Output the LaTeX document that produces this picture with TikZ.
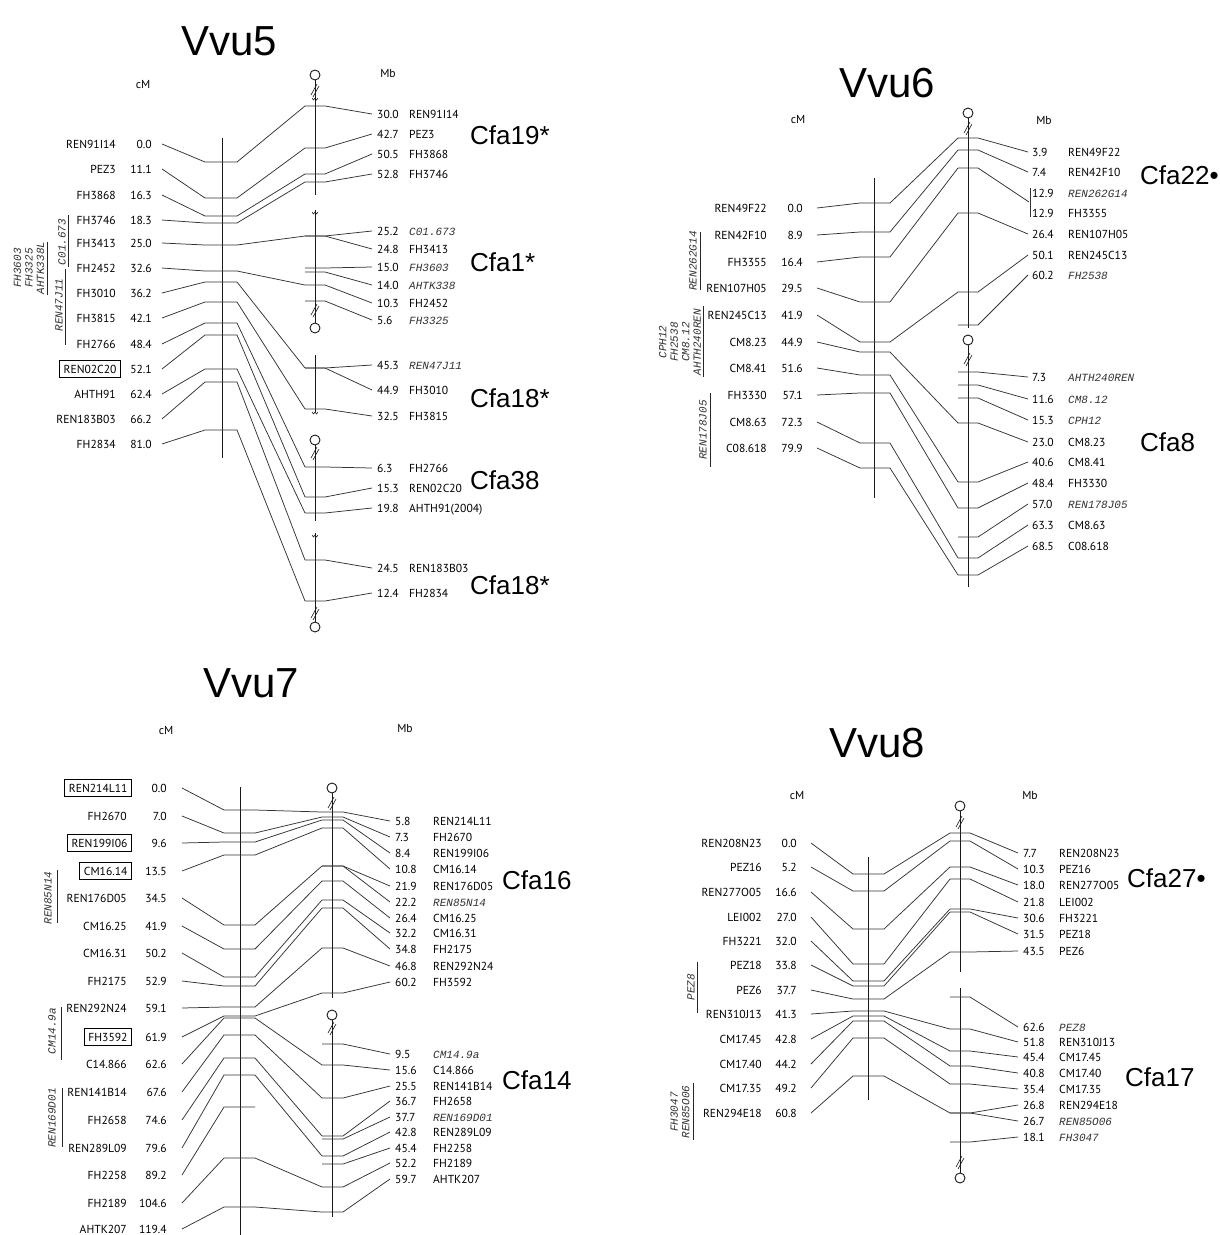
\documentclass[tikz,border=0pt]{standalone}
\usepackage{fontspec}
\setmainfont{PT Sans}
\newfontfamily\helv{Liberation Sans}
\newfontfamily\monoit{Liberation Mono}

% left (genetic map) marker: [name style]{id}{name}{cM}{y label}{y on chromosome}
\newcommand\Lmk[6][]{%
  \node[lab,anchor=east,#1] (#2-n) at (\xLname,#5) {#3};
  \node[lab,anchor=east] (#2-c) at (\xLnum,#5) {#4};
  \coordinate (#2-s) at (\xLs,#5);
  \coordinate (#2-a) at (\xCa,#6);
  \coordinate (#2-b) at (\xCb,#6);
  \draw[ln] (#2-s) -- (#2-a) -- (#2-b);
}
% right (physical map) marker: [name style]{id}{Mb}{name}{y label}{y tick}
\newcommand\Rmk[6][]{%
  \coordinate (#2-t) at (\xTa,#6);
  \coordinate (#2-u) at (\xTb,#6);
  \coordinate (#2-e) at (\xE,#5);
  \node[lab,anchor=west] (#2-m) at (\xRnum,#5) {#3};
  \node[lab,anchor=west,#1] (#2-r) at (\xRname,#5) {#4};
  \draw[ln] (#2-t) -- (#2-u) -- (#2-e);
}
\newcommand\Link[1]{\draw[ln] (#1-b) -- (#1-t);}
% chromosome decorations
\newcommand\Cen[2]{\draw[chr] (#1,#2) circle[radius=5pt];}
\newcommand\Brk[2]{\draw[chr,line width=0.6pt] (#1-4,#2+5) -- (#1+2,#2-6) (#1-2,#2+7) -- (#1+4,#2-4);}
\newcommand\Wig[2]{\draw[line width=0.5pt] (#1-3,#2-1) -- (#1-1.5,#2+1) -- (#1,#2-1) -- (#1+1.5,#2+1) -- (#1+3,#2-1);}

\begin{document}
\begin{tikzpicture}[x=1pt,y=-1pt,
  lab/.style={font=\fontsize{11.6}{12}\selectfont, inner sep=0pt, text height=8.1pt, text depth=0pt},
  itl/.style={font=\fontsize{11}{12}\monoit\itshape, text=black!80},
  boxd/.style={draw, line width=1pt, inner xsep=4pt, inner ysep=4pt, xshift=5pt},
  ln/.style={line width=0.75pt, black!80},
  chr/.style={line width=0.9pt, black!90},
  bar/.style={line width=1pt, black!85},
  ttl/.style={font=\fontsize{42}{46}\helv},
  cfa/.style={font=\fontsize{26}{30}\helv, anchor=west, inner sep=0pt},
  unit/.style={font=\fontsize{11.6}{12}\selectfont, inner sep=0pt},
  rot/.style={rotate=90, font=\fontsize{11}{11.5}\monoit\itshape, align=center, text=black!80, inner sep=0pt},
]
\useasboundingbox (0,0) rectangle (1220,1235);
\fill[white] (0,0) rectangle (1220,1235);

% ================= Vvu5 =================
\node[ttl] (t5) at (229,41) {Vvu5};
\node[unit] (cm5) at (143,85) {cM};
\node[unit] (mb5) at (388,73) {Mb};
\def\xLname{116}\def\xLnum{152}\def\xLs{162}\def\xCa{205}\def\xCb{237}
\def\xTa{305}\def\xTb{325}\def\xE{372}\def\xRnum{377}\def\xRname{409}
\draw[chr] (222,138) -- (222,458);
\Lmk{a1}{REN91I14}{0.0}{144}{162}
\Lmk{a2}{PEZ3}{11.1}{169}{198}
\Lmk{a3}{FH3868}{16.3}{195}{216}
\Lmk{a4}{FH3746}{18.3}{220}{223}
\Lmk{a5}{FH3413}{25.0}{243}{245}
\Lmk{a6}{FH2452}{32.6}{268}{271}
\Lmk{a7}{FH3010}{36.2}{293}{282}
\Lmk{a8}{FH3815}{42.1}{318}{302}
\Lmk{a9}{FH2766}{48.4}{344}{323}
\Lmk[boxd]{a10}{REN02C20}{52.1}{369}{335}
\Lmk{a11}{AHTH91}{62.4}{394}{369}
\Lmk{a12}{REN183B03}{66.2}{419}{382}
\Lmk{a13}{FH2834}{81.0}{444}{430}
% physical segments
\Cen{315}{75}\draw[chr] (315,80) -- (315,195);\Brk{315}{90}\Wig{315}{99}
\Wig{315}{213}\draw[chr] (315,210) -- (315,323);\Brk{315}{310}\Cen{315}{328}
\draw[chr] (315,355) -- (315,412);\Wig{315}{413}
\Cen{315}{440}\draw[chr] (315,445) -- (315,521);\Brk{315}{453}
\Wig{315}{536}\draw[chr] (315,533) -- (315,622);\Brk{315}{613}\Cen{315}{627}
\Rmk{a1}{30.0}{REN91I14}{114}{106}
\Rmk{a2}{42.7}{PEZ3}{134}{148}
\Rmk{a3}{50.5}{FH3868}{154}{174}
\Rmk{a4}{52.8}{FH3746}{174}{182}
\Rmk[itl]{b1}{25.2}{C01.673}{231}{236}
\Rmk{a5}{24.8}{FH3413}{249}{236}
\Rmk[itl]{b2}{15.0}{FH3603}{267}{268}
\Rmk[itl]{b3}{14.0}{AHTK338}{285}{272}
\Rmk{a6}{10.3}{FH2452}{303}{285}
\Rmk[itl]{b4}{5.6}{FH3325}{320}{301}
\Rmk[itl]{b5}{45.3}{REN47J11}{365}{368}
\Rmk{a7}{44.9}{FH3010}{390}{368}
\Rmk{a8}{32.5}{FH3815}{416}{409}
\Rmk{a9}{6.3}{FH2766}{468}{467}
\Rmk{a10}{15.3}{REN02C20}{488}{497}
\Rmk{a11}{19.8}{AHTH91(2004)}{508}{513}
\Rmk{a12}{24.5}{REN183B03}{568}{560}
\Rmk{a13}{12.4}{FH2834}{593}{601}
\foreach \i in {1,...,13} {\Link{a\i}}
\node[cfa] (k19) at (470,135) {Cfa19*};
\node[cfa] (k1) at (470,262) {Cfa1*};
\node[cfa] (k18a) at (470,398) {Cfa18*};
\node[cfa] (k38) at (470,480) {Cfa38};
\node[cfa] (k18b) at (470,585) {Cfa18*};
\node[rot] (v5a) at (62,242) {C01.673};
\draw[bar] (68,215) -- (68,267);
\node[rot] (v5b) at (59,305) {REN47J11};
\draw[bar] (65,269) -- (65,345);
\node[rot] (v5c) at (29,268) {FH3603\\FH3325\\AHTK338L};
\draw[bar] (47,242) -- (47,295);

% ================= Vvu6 =================
\node[ttl] (t6) at (887,83) {Vvu6};
\node[unit] (cm6) at (798,120) {cM};
\node[unit] (mb6) at (1044,120) {Mb};
\def\xLname{767}\def\xLnum{803}\def\xLs{817}\def\xCa{860}\def\xCb{890}
\def\xTa{958}\def\xTb{978}\def\xE{1028}\def\xRnum{1032}\def\xRname{1068}
\draw[chr] (874,178) -- (874,498);
\Lmk{c1}{REN49F22}{0.0}{208}{203}
\Lmk{c2}{REN42F10}{8.9}{235}{232}
\Lmk{c3}{FH3355}{16.4}{262}{257}
\Lmk{c4}{REN107H05}{29.5}{288}{302}
\Lmk{c5}{REN245C13}{41.9}{315}{342}
\Lmk{c6}{CM8.23}{44.9}{342}{352}
\Lmk{c7}{CM8.41}{51.6}{368}{375}
\Lmk{c8}{FH3330}{57.1}{395}{393}
\Lmk{c9}{CM8.63}{72.3}{422}{443}
\Lmk{c10}{C08.618}{79.9}{448}{468}
\Cen{968}{113}\draw[chr] (968,118) -- (968,328);\Brk{968}{128}
\Cen{968}{340}\draw[chr] (968,345) -- (968,587);\Brk{968}{359}
\Rmk{c1}{3.9}{REN49F22}{152}{138}
\Rmk{c2}{7.4}{REN42F10}{172}{150}
% two markers at the same position, joined by a bracket
\coordinate (c3-t) at (958,168);
\coordinate (c3-u) at (978,168);
\coordinate (c3-e) at (1029,202);
\coordinate (br1) at (1030,188);
\coordinate (br2) at (1030,217);
\draw[ln] (c3-t) -- (c3-u) -- (c3-e);
\draw[ln] (br1) -- (br2);
\node[lab,anchor=west] (d0-m) at (1032,193) {12.9};
\node[lab,itl,anchor=west] (d0-r) at (1068,193) {REN262G14};
\node[lab,anchor=west] (c3-m) at (1032,213) {12.9};
\node[lab,anchor=west] (c3-r) at (1068,213) {FH3355};
\Rmk{c4}{26.4}{REN107H05}{234}{213}
\Rmk{c5}{50.1}{REN245C13}{255}{292}
\Rmk[itl]{d1}{60.2}{FH2538}{275}{325}
\Rmk[itl]{d2}{7.3}{AHTH240REN}{377}{372}
\Rmk[itl]{d3}{11.6}{CM8.12}{399}{385}
\Rmk[itl]{d4}{15.3}{CPH12}{420}{398}
\Rmk{c6}{23.0}{CM8.23}{442}{423}
\Rmk{c7}{40.6}{CM8.41}{462}{482}
\Rmk{c8}{48.4}{FH3330}{483}{508}
\Rmk[itl]{d5}{57.0}{REN178J05}{504}{537}
\Rmk{c9}{63.3}{CM8.63}{525}{558}
\Rmk{c10}{68.5}{C08.618}{546}{575}
\foreach \i in {1,...,10} {\Link{c\i}}
\node[cfa] (k22) at (1140,175) {Cfa22•};
\node[cfa] (k8) at (1140,442) {Cfa8};
\node[rot] (v6a) at (693,261) {REN262G14};
\draw[bar] (700,232) -- (700,290);
\node[rot] (v6b) at (680,342) {CPH12\\FH2538\\CM8.12\\AHTH240REN};
\draw[bar] (703,306) -- (703,377);
\node[rot] (v6c) at (703,430) {REN178J05};
\draw[bar] (710,393) -- (710,467);

% ================= Vvu7 =================
\node[ttl] (t7) at (251,683) {Vvu7};
\node[unit] (cm7) at (166,730) {cM};
\node[unit] (mb7) at (405,728) {Mb};
\def\xLname{127}\def\xLnum{167}\def\xLs{182}\def\xCa{224}\def\xCb{255}
\def\xTa{322}\def\xTb{343}\def\xE{390}\def\xRnum{395}\def\xRname{433}
\draw[chr] (240,787) -- (240,1235);
\Lmk[boxd]{e1}{REN214L11}{0.0}{788}{810}
\Lmk{e2}{FH2670}{7.0}{816}{833}
\Lmk[boxd]{e3}{REN199I06}{9.6}{843}{842}
\Lmk[boxd]{e4}{CM16.14}{13.5}{871}{855}
\Lmk{e5}{REN176D05}{34.5}{898}{925}
\Lmk{e6}{CM16.25}{41.9}{926}{949}
\Lmk{e7}{CM16.31}{50.2}{953}{977}
\Lmk{e8}{FH2175}{52.9}{981}{986}
\Lmk{e9}{REN292N24}{59.1}{1008}{1007}
\Lmk[boxd]{e10}{FH3592}{61.9}{1037}{1016}
\Lmk{e11}{C14.866}{62.6}{1064}{1018}
\Lmk{e12}{REN141B14}{67.6}{1092}{1035}
\Lmk{e13}{FH2658}{74.6}{1120}{1058}
\Lmk{e14}{REN289L09}{79.6}{1148}{1075}
\Lmk{e15}{FH2258}{89.2}{1175}{1107}
\Lmk{e16}{FH2189}{104.6}{1203}{1158}
\Lmk{e17}{AHTK207}{119.4}{1229}{1207}
\Cen{332}{788}\draw[chr] (332,793) -- (332,998);\Brk{332}{803}
\Cen{332}{1015}\draw[chr] (332,1020) -- (332,1217);\Brk{332}{1028}
\Rmk{e1}{5.8}{REN214L11}{821}{812}
\Rmk{e2}{7.3}{FH2670}{837}{817}
\Rmk{e3}{8.4}{REN199I06}{853}{820}
\Rmk{e4}{10.8}{CM16.14}{869}{828}
\Rmk{e5}{21.9}{REN176D05}{886}{866}
\Rmk[itl]{f1}{22.2}{REN85N14}{902}{866}
\Rmk{e6}{26.4}{CM16.25}{918}{881}
\Rmk{e7}{32.2}{CM16.31}{933}{900}
\Rmk{e8}{34.8}{FH2175}{949}{908}
\Rmk{e9}{46.8}{REN292N24}{966}{948}
\Rmk{e10}{60.2}{FH3592}{982}{993}
\Rmk[itl]{f2}{9.5}{CM14.9a}{1054}{1044}
\Rmk{e11}{15.6}{C14.866}{1070}{1065}
\Rmk{e12}{25.5}{REN141B14}{1086}{1098}
\Rmk{e13}{36.7}{FH2658}{1101}{1136}
\Rmk[itl]{f3}{37.7}{REN169D01}{1117}{1139}
\Rmk{e14}{42.8}{REN289L09}{1132}{1156}
\Rmk{e15}{45.4}{FH2258}{1148}{1164}
\Rmk{e16}{52.2}{FH2189}{1163}{1187}
\Rmk{e17}{59.7}{AHTK207}{1179}{1212}
\foreach \i in {1,...,14,16,17} {\Link{e\i}}
\node[cfa] (k16) at (502,880) {Cfa16};
\node[cfa] (k14) at (502,1080) {Cfa14};
\node[rot] (v7a) at (48,898) {REN85N14};
\draw[bar] (57,870) -- (57,923);
\node[rot] (v7b) at (52,1031) {CM14.9a};
\draw[bar] (61,1007) -- (61,1060);
\node[rot] (v7c) at (52,1118) {REN169D01};
\draw[bar] (62,1088) -- (62,1147);

% ================= Vvu8 =================
\node[ttl] (t8) at (877,743) {Vvu8};
\node[unit] (cm8) at (797,795) {cM};
\node[unit] (mb8) at (1030,795) {Mb};
\def\xLname{762}\def\xLnum{797}\def\xLs{811}\def\xCa{853}\def\xCb{884}
\def\xTa{950}\def\xTb{970}\def\xE{1018}\def\xRnum{1023}\def\xRname{1059}
\draw[chr] (868,857) -- (868,1100);
\Lmk{g1}{REN208N23}{0.0}{843}{874}
\Lmk{g2}{PEZ16}{5.2}{867}{891}
\Lmk{g3}{REN277O05}{16.6}{892}{929}
\Lmk{g4}{LEI002}{27.0}{917}{964}
\Lmk{g5}{FH3221}{32.0}{941}{981}
\Lmk{g6}{PEZ18}{33.8}{965}{986}
\Lmk{g7}{PEZ6}{37.7}{990}{999}
\Lmk{g8}{REN310J13}{41.3}{1014}{1011}
\Lmk{g9}{CM17.45}{42.8}{1039}{1016}
\Lmk{g10}{CM17.40}{44.2}{1064}{1021}
\Lmk{g11}{CM17.35}{49.2}{1088}{1038}
\Lmk{g12}{REN294E18}{60.8}{1113}{1076}
\Cen{960}{806}\draw[chr] (960,811) -- (960,972);\Brk{960}{822}
\draw[chr] (960,988) -- (960,1173);\Brk{960}{1162}\Cen{960}{1178}
\Rmk{g1}{7.7}{REN208N23}{853}{833}
\Rmk{g2}{10.3}{PEZ16}{869}{841}
\Rmk{g3}{18.0}{REN277O05}{885}{867}
\Rmk{g4}{21.8}{LEI002}{902}{879}
\Rmk{g5}{30.6}{FH3221}{918}{909}
\Rmk{g6}{31.5}{PEZ18}{934}{912}
\Rmk{g7}{43.5}{PEZ6}{951}{952}
\Rmk[itl]{h1}{62.6}{PEZ8}{1027}{997}
\Rmk{g8}{51.8}{REN310J13}{1042}{1029}
\Rmk{g9}{45.4}{CM17.45}{1057}{1051}
\Rmk{g10}{40.8}{CM17.40}{1073}{1066}
\Rmk{g11}{35.4}{CM17.35}{1089}{1084}
\Rmk{g12}{26.8}{REN294E18}{1105}{1113}
\Rmk[itl]{h2}{26.7}{REN85O06}{1121}{1113}
\Rmk[itl]{h3}{18.1}{FH3047}{1137}{1142}
\foreach \i in {1,...,12} {\Link{g\i}}
\node[cfa] (k27) at (1127,878) {Cfa27•};
\node[cfa] (k17) at (1125,1077) {Cfa17};
\node[rot] (v8a) at (691,987) {PEZ8};
\draw[bar] (697,962) -- (697,1013);
\node[rot] (v8b) at (680,1112) {FH3047\\REN85O06};
\draw[bar] (693,1083) -- (693,1140);
\end{tikzpicture}
\end{document}
